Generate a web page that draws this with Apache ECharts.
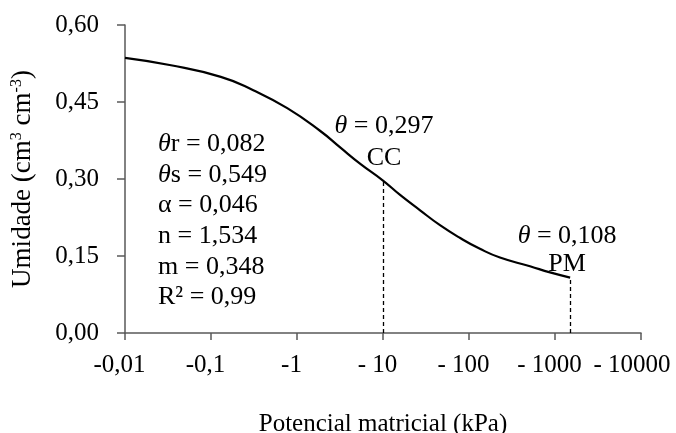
<!DOCTYPE html>
<html>
<head>
<meta charset="utf-8">
<script src="https://cdn.jsdelivr.net/npm/echarts@6/dist/echarts.min.js"></script>
<style>
	html, body { margin: 0; padding: 0; background: #fff; }
	#chart { width: 676px; height: 433px; }
</style>
</head>
<body>
<div id="chart"></div>
<script>
// potencial matricial (kPa, modulo) e umidade
var potencial = [0.01, 0.033, 0.13, 0.31, 0.77, 1.85, 3.2, 5.4, 10, 15.8, 27, 46, 79, 134, 229, 512, 875, 1500];
var umidade = [0.536, 0.522, 0.499, 0.473, 0.438, 0.394, 0.361, 0.330, 0.297, 0.269, 0.239, 0.210, 0.185, 0.164, 0.147, 0.130, 0.118, 0.108];

// pontos de referencia: capacidade de campo e ponto de murcha
var pontosNomes = ['CC', 'PM'];
var pontosPotencial = [10, 1500];
var pontosUmidade = [0.297, 0.108];

// parametros do ajuste
var paramNomes = ['{it|θ}r', '{it|θ}s', 'α', 'n', 'm', 'R²'];
var paramValores = ['0,082', '0,549', '0,046', '1,534', '0,348', '0,99'];

var xTickLabels = ['-0,01', '-0,1', '-1', '- 10', '- 100', '- 1000', '- 10000'];
var yTicks = [0, 0.15, 0.30, 0.45, 0.60];

var FONT = '"Liberation Serif", "Times New Roman", serif';
var AXIS_COLOR = '#595959';

var curveData = [];
for (var i = 0; i < potencial.length; i += 1) {
	curveData.push([potencial[i], umidade[i]]);
}
var pontosData = [];
var guideLines = [];
for (var i = 0; i < pontosNomes.length; i += 1) {
	pontosData.push({
		name: pontosNomes[i],
		value: [pontosPotencial[i], pontosUmidade[i]],
		label: i == 0 ? { distance: 10, lineHeight: 32, offset: [1, 4] } : { distance: 1, lineHeight: 28, offset: [-3, 2] }
	});
	guideLines.push([{ coord: [pontosPotencial[i], 0] }, { coord: [pontosPotencial[i], pontosUmidade[i]] }]);
}
var paramText = [];
for (var i = 0; i < paramNomes.length; i += 1) {
	paramText.push(paramNomes[i] + ' = ' + paramValores[i]);
}

var myChart = echarts.init(document.getElementById('chart'));
myChart.setOption({
	animation: false,
	grid: {
		left: 125,
		right: 35,
		top: 25,
		bottom: 100,
		containLabel: false,
		outerBoundsMode: 'none'
	},
	xAxis: {
		type: 'log',
		logBase: 10,
		min: 0.01,
		max: 10000,
		name: 'Potencial matricial (kPa)',
		nameLocation: 'middle',
		nameGap: 79,
		nameTextStyle: {
			fontFamily: FONT,
			fontSize: 25,
			color: '#000'
		},
		axisLine: {
			lineStyle: { color: AXIS_COLOR, width: 1.5 }
		},
		axisTick: {
			show: true,
			length: 7,
			lineStyle: { color: AXIS_COLOR, width: 1.5 }
		},
		axisLabel: {
			fontFamily: FONT,
			fontSize: 25,
			color: '#000',
			margin: 20,
			formatter: function(value) {
				var idx = Math.round(Math.log(value) / Math.LN10) + 2;
				if (idx == xTickLabels.length - 1) {
					return '{last|' + xTickLabels[idx] + '}';
				}
				return '{std|' + (xTickLabels[idx] || '') + '}';
			},
			rich: {
				std: { fontFamily: FONT, fontSize: 25, color: '#000', padding: [0, 11, 0, 0] },
				last: { fontFamily: FONT, fontSize: 25, color: '#000', padding: [0, 18, 0, 0] }
			}
		},
		splitLine: { show: false },
		minorTick: { show: false }
	},
	yAxis: {
		type: 'value',
		min: yTicks[0],
		max: yTicks[yTicks.length - 1],
		interval: 0.15,
		name: 'Umidade (cm{sup|3} cm{sup|-3})',
		nameLocation: 'middle',
		nameGap: 89,
		nameTextStyle: {
			fontFamily: FONT,
			fontSize: 27,
			color: '#000',
			rich: {
				sup: {
					fontFamily: FONT,
					fontSize: 16,
					color: '#000',
					verticalAlign: 'top'
				}
			}
		},
		axisLine: {
			show: true,
			lineStyle: { color: AXIS_COLOR, width: 1.5 }
		},
		axisTick: {
			show: true,
			length: 8,
			lineStyle: { color: AXIS_COLOR, width: 1.5 }
		},
		axisLabel: {
			fontFamily: FONT,
			fontSize: 25,
			color: '#000',
			margin: 26,
			formatter: function(value) {
				return value.toFixed(2).replace('.', ',');
			}
		},
		splitLine: { show: false }
	},
	graphic: [{
		type: 'text',
		left: 158,
		top: 129,
		silent: true,
		style: {
			text: paramText.join('\n'),
			fontFamily: FONT,
			fontSize: 26,
			lineHeight: 30.6,
			fill: '#000',
			rich: {
				it: { fontFamily: FONT, fontSize: 26, fontStyle: 'italic', lineHeight: 30.6, fill: '#000' }
			}
		}
	}],
	series: [{
		name: 'curva',
		type: 'line',
		data: curveData,
		smooth: 0.5,
		showSymbol: false,
		symbol: 'none',
		silent: true,
		lineStyle: {
			color: '#000',
			width: 2.2
		},
		markLine: {
			silent: true,
			symbol: ['none', 'none'],
			label: { show: false },
			lineStyle: {
				color: '#000',
				width: 1.3,
				type: [4, 3]
			},
			data: guideLines
		}
	}, {
		name: 'pontos',
		type: 'scatter',
		data: pontosData,
		symbolSize: 0,
		silent: true,
		itemStyle: { opacity: 1, color: '#000' },
		label: {
			show: true,
			position: 'top',
			fontFamily: FONT,
			fontSize: 26,
			color: '#000',
			align: 'center',
			formatter: function(params) {
				return '{it|θ} = ' + params.value[1].toFixed(3).replace('.', ',') + '\n' + params.name;
			},
			rich: {
				it: { fontFamily: FONT, fontSize: 26, fontStyle: 'italic', color: '#000' }
			}
		}
	}]
});
</script>
</body>
</html>
